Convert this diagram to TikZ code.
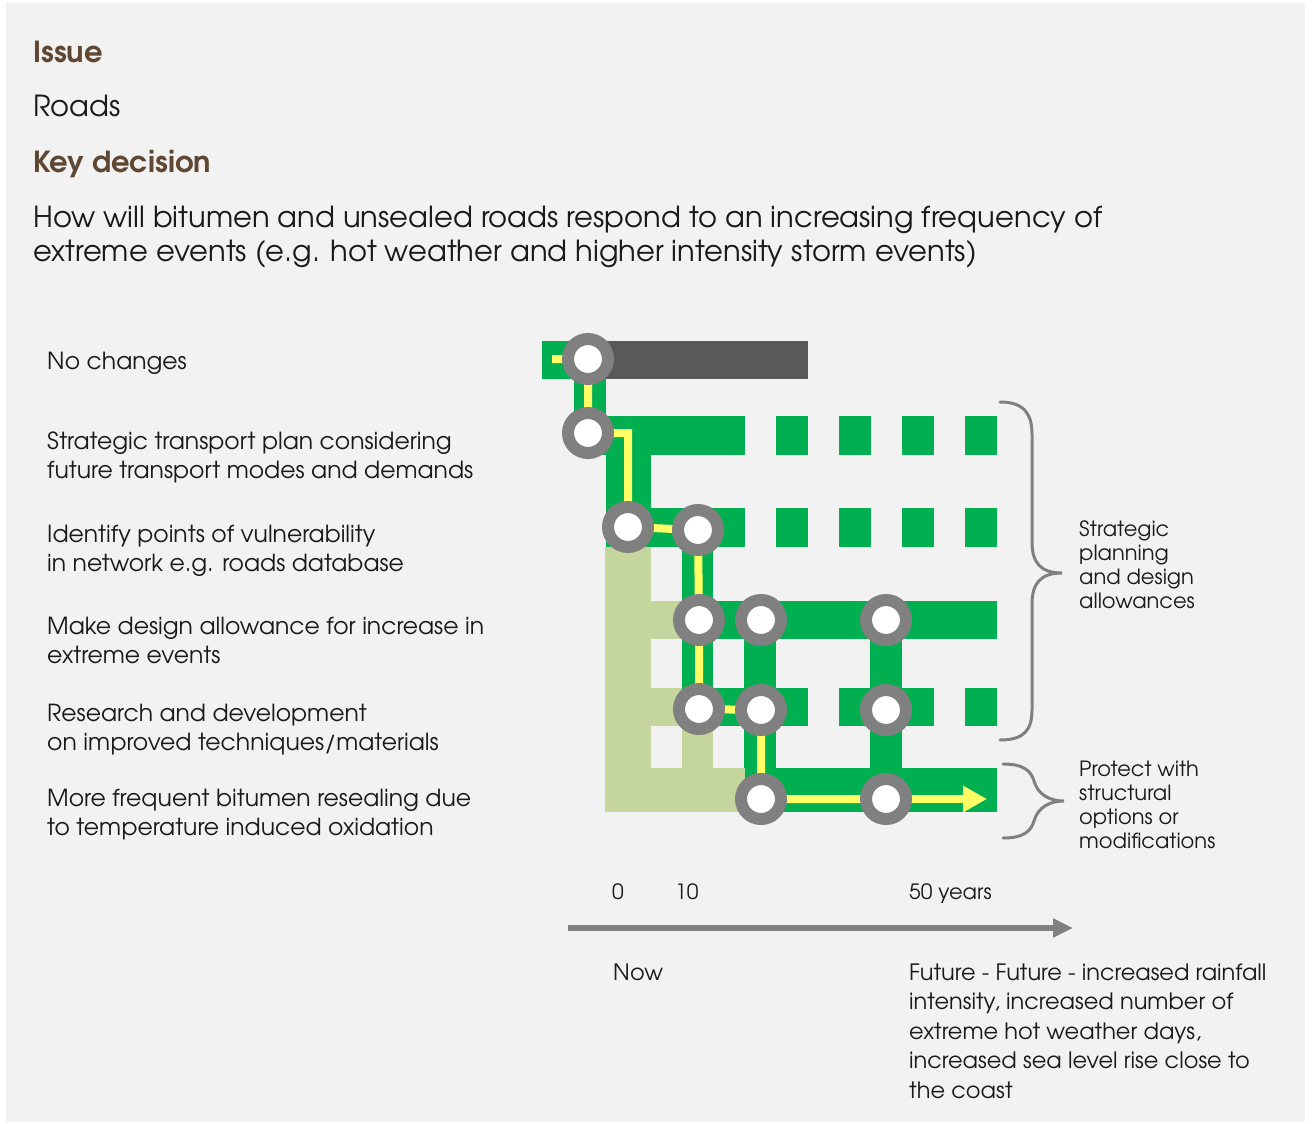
\documentclass[tikz,border=0pt]{standalone}
\usepackage{fontspec}
\setmainfont{TeX Gyre Adventor}
\usetikzlibrary{arrows.meta}
\definecolor{bgc}{HTML}{F2F2F2}
\definecolor{grn}{HTML}{00B050}
\definecolor{lgrn}{HTML}{C4D69D}
\definecolor{dgray}{HTML}{595959}
\definecolor{ring}{HTML}{808080}
\definecolor{ylw}{HTML}{FFFF66}
\definecolor{brn}{HTML}{5F4733}
\definecolor{txt}{HTML}{1A1A1A}
\tikzset{
  dot/.style={circle, fill=white, draw=ring, line width=12pt, minimum size=40pt, inner sep=0pt},
  route/.style={draw=ylw, line width=8pt, line join=miter},
  lbl/.style={anchor=base west, inner sep=0pt, text=txt, font=\fontsize{23.5}{29}\selectfont, align=left},
  rlbl/.style={anchor=base west, inner sep=0pt, text=txt, font=\fontsize{21}{23.7}\selectfont, align=left},
  head/.style={anchor=base west, inner sep=0pt, text=brn, font=\fontsize{29}{33}\selectfont\bfseries},
  brace/.style={draw=ring, line width=3pt, line cap=round},
}
\begin{document}
\begin{tikzpicture}[x=1pt,y=-1pt]
\useasboundingbox (0,0) rectangle (1312,1124);
\fill[white] (0,0) rectangle (1312,1124);
\fill[bgc] (6,3) rectangle (1305,1122);

% header (multi-line nodes: base = baseline of last line)
\node[head] (issue) at (33,63) {Issue};
\node[lbl, font=\fontsize{29}{33}\selectfont] (roads) at (33,117) {Roads};
\node[head] (kd) at (33,172) {Key decision};
\node[lbl, font=\fontsize{29}{33.5}\selectfont] (q) at (33,261) {How will bitumen and unsealed roads respond to an increasing frequency of\\extreme events (e.g. hot weather and higher intensity storm events)};

% left labels
\node[lbl] (l1) at (47,369) {No changes};
\node[lbl] (l2) at (47,478) {Strategic transport plan considering\\future transport modes and demands};
\node[lbl] (l3) at (47,571) {Identify points of vulnerability\\in network e.g. roads database};
\node[lbl] (l4) at (47,663) {Make design allowance for increase in\\extreme events};
\node[lbl] (l5) at (47,750) {Research and development\\on improved techniques/materials};
\node[lbl] (l6) at (47,835) {More frequent bitumen resealing due\\to temperature induced oxidation};

% light green (past actions)
\fill[lgrn] (605,547) rectangle (651,812);
\fill[lgrn] (605,768) rectangle (745,812);
\fill[lgrn] (651,601) rectangle (682,639);
\fill[lgrn] (651,688) rectangle (682,726);
\fill[lgrn] (682,726) rectangle (713,768);

% row 1
\fill[grn] (542,341) rectangle (600,379);
\fill[dgray] (600,341) rectangle (808,379);
\fill[grn] (574,379) rectangle (606,455);
% row 2
\fill[grn] (606,416) rectangle (745,455);
\foreach \xa in {776,839,902,965} \fill[grn] (\xa,416) rectangle ++(32,39);
\fill[grn] (606,455) rectangle (651,508);
% row 3
\fill[grn] (606,508) rectangle (745,547);
\foreach \xa in {776,839,902,965} \fill[grn] (\xa,508) rectangle ++(32,39);
\fill[grn] (682,547) rectangle (713,726);
% row 4
\fill[grn] (682,601) rectangle (997,639);
\fill[grn] (744,639) rectangle (776,768);
\fill[grn] (870,639) rectangle (902,768);
% row 5
\fill[grn] (682,688) rectangle (808,726);
\fill[grn] (839,688) rectangle (934,726);
\fill[grn] (965,688) rectangle (997,726);
% row 6
\fill[grn] (745,768) rectangle (997,812);

% circles positions
\coordinate (ystart) at (552,359);
\coordinate (yend) at (987,799);
\path (588,359) coordinate (p1)
      (588,433) coordinate (p2)
      (628,527) coordinate (p3)
      (698,530) coordinate (p4)
      (699,620) coordinate (p5)
      (761,620) coordinate (p6)
      (886,620) coordinate (p7)
      (699,709) coordinate (p8)
      (761,710) coordinate (p9)
      (886,710) coordinate (p10)
      (761,799) coordinate (p11)
      (886,799) coordinate (p12);

% yellow route
\draw[route] (ystart) -- (p1) -- (p2) -| (p3) -- (p4) -- (p5) -- (p8) -- (p9) -- (p11) -- (p12);
\draw[route, -{Triangle[length=24pt,width=25pt]}] (p12) -- (yend);

% circles
\foreach \i in {1,...,12} \node[dot] (c\i) at (p\i) {};

% braces
\draw[brace] (1000,402) .. controls (1024,402) and (1032,414) .. (1032,434) -- (1032,542)
  .. controls (1032,562) and (1040,573) .. (1062,573)
  .. controls (1040,573) and (1032,584) .. (1032,604) -- (1032,710)
  .. controls (1032,730) and (1024,740) .. (1000,740);
\draw[brace] (1003,764) .. controls (1024,764) and (1031,771) .. (1034,781)
  .. controls (1038,795) and (1050,801) .. (1064,801)
  .. controls (1050,801) and (1038,807) .. (1034,821)
  .. controls (1031,831) and (1024,838) .. (1003,838);
\node[rlbl] (r1) at (1079,608) {Strategic\\planning\\and design\\allowances};
\node[rlbl] (r2) at (1079,848) {Protect with\\structural\\options or\\modifications};

% time axis
\node[rlbl] (t0) at (612,899) {0};
\node[rlbl] (t10) at (675,899) {10};
\node[rlbl] (t50) at (909,899) {50 years};
\coordinate (ax0) at (568,928);
\coordinate (ax1) at (1073,928);
\draw[ring, line width=6pt, -{Triangle[length=20pt,width=18pt]}] (ax0) -- (ax1);
\node[rlbl, font=\fontsize{22.5}{29.5}\selectfont] (now) at (613,980) {Now};
\node[rlbl, font=\fontsize{22.5}{29.5}\selectfont] (fut) at (909,1098) {Future - Future - increased rainfall\\intensity, increased number of\\extreme hot weather days,\\increased sea level rise close to\\the coast};
\end{tikzpicture}
\end{document}
